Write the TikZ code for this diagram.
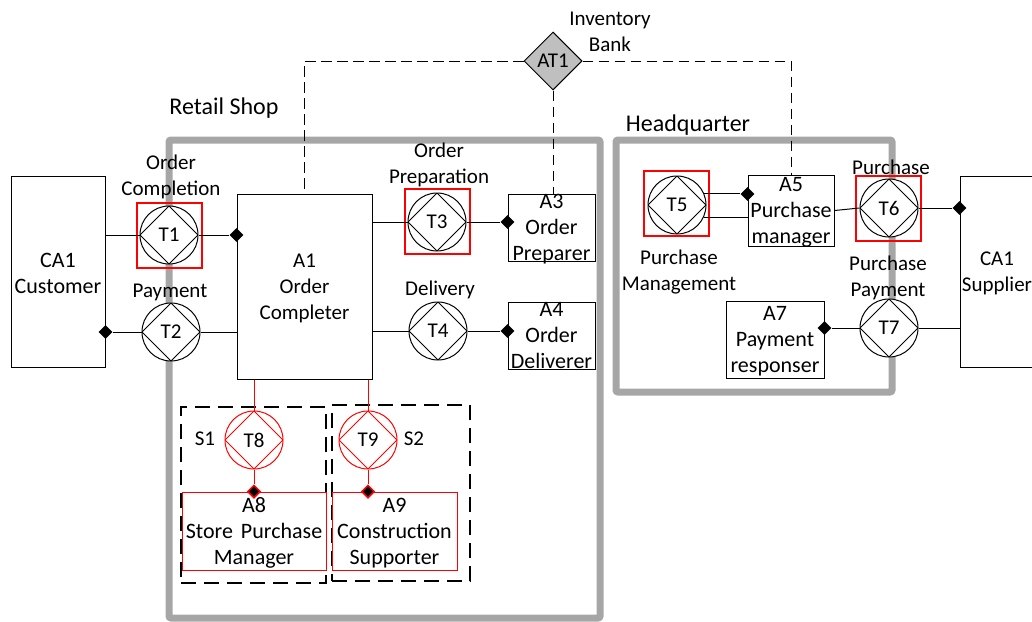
\documentclass[tikz,border=0pt]{standalone}
\usepackage{fontspec}
\setmainfont{Carlito}
\usetikzlibrary{shapes.geometric}

\begin{document}
\begin{tikzpicture}[x=1pt,y=-1pt,
    every node/.style={font=\fontsize{21}{26}\selectfont,align=center,inner sep=0pt},
    wall/.style={draw=black!35,line width=7pt,rounded corners=2pt},
    title/.style={font=\fontsize{24}{26}\selectfont},
    bigtext/.style={font=\fontsize{22}{26}\selectfont,yshift=-2pt},
    smalltext/.style={yshift=-2pt},
    actor/.style 2 args={draw=black,line width=1pt,fill=white,rectangle,
      minimum width=#1 pt,minimum height=#2 pt},
    redactor/.style 2 args={draw=red,line width=1pt,fill=white,rectangle,
      minimum width=#1 pt,minimum height=#2 pt},
    trans/.style={draw=#1,line width=1pt,fill=white,circle,minimum size=58pt,
      path picture={\draw[#1,line width=1pt] (path picture bounding box.north)--(path picture bounding box.east)
        --(path picture bounding box.south)--(path picture bounding box.west)--cycle;}},
    redbox/.style={draw=red,line width=2pt,rectangle,minimum size=65pt},
    joint/.style={diamond,fill=black,minimum size=14pt},
    redjoint/.style={diamond,fill=black,draw=red,line width=1.5pt,minimum size=13pt},
    link/.style={draw=black,line width=1pt},
    redlink/.style={draw=red,line width=1pt},
    bank/.style={dash pattern=on 10.5pt off 5.5pt,line width=1pt},
    system/.style={draw=black,line width=2pt,dash pattern=on 15pt off 8pt,rectangle},
  ]
  \useasboundingbox (0,0) rectangle (1032,621);
  % ---------------------
  % the two organizations
  % ---------------------
  \draw[wall] (169,140) rectangle (600,618);
  \draw[wall] (616,140) rectangle (892,392);
  \node[title] (retail) at (224,108) {Retail Shop};
  \node[title] (hq) at (688,125) {Headquarter};
  % ----------------
  % the actor roles
  % ----------------
  \node[actor={94}{191},label={[bigtext]center:{CA1\\Customer}}] (CA1) at (58,271.5) {};
  \node[actor={135}{185},label={[smalltext]center:{A1\\Order\\Completer}}] (A1) at (304.5,286.5) {};
  \node[actor={87}{67},label={[bigtext]center:{A3\\Order\\Preparer}}] (A3) at (551.5,227.5) {};
  \node[actor={87}{67},label={[bigtext,yshift=2pt]center:{A4\\Order\\Deliverer}}] (A4) at (551.5,335.5) {};
  \node[actor={86}{71},label={[bigtext]center:{A5\\Purchase\\manager}}] (A5) at (791,210.5) {};
  \node[actor={98}{77},label={[bigtext]center:{A7\\Payment\\responser}}] (A7) at (775,339.5) {};
  \node[actor={74}{191},label={[smalltext]center:{CA1\\Supplier}}] (CA2) at (997,271.5) {};
  % --------------------------
  % the two dashed subsystems
  % --------------------------
  \node[system,minimum width=145pt,minimum height=176pt] (S1box) at (253.5,495) {};
  \node[system,minimum width=138pt,minimum height=176pt] (S2box) at (401,493) {};
  \node (S1) at (205,439) {S1};
  \node (S2) at (414,439) {S2};
  \node[redactor={144}{78},label={[bigtext]center:{A8\\Store\hspace{3pt} Purchase\\Manager}}] (A8) at (254,531) {};
  \node[redactor={125}{78},label={[bigtext]center:{A9\\Construction\\Supporter}}] (A9) at (394.5,531) {};
  % ---------------------------------
  % the red marks of the transactions
  % ---------------------------------
  \foreach \name/\x/\y in {T1/169/235.5,T3/437/221.5,T5/676.5/203.5,T6/888.5/208.5}{
    \node[redbox] (box\name) at (\x,\y) {};
  }
  % ----------------
  % the transactions
  % ----------------
  \foreach \name/\x/\y in {T1/169/235,T2/171/332,T3/437/222,T4/438/331,T5/677/205,T6/889/208,T7/889/328}{
    \node[trans=black] (\name) at (\x,\y) {\raisebox{-2pt}{\name}};
  }
  \foreach \name/\x in {T8/254,T9/368}{
    \node[trans=red] (\name) at (\x,440) {\raisebox{-2pt}{\name}};
  }
  \node[diamond,draw=black,line width=1pt,fill=black!25,minimum size=58pt] (AT1) at (553,61) {\raisebox{-2pt}{AT1}};
  % ----------------------
  % the transaction labels
  % ----------------------
  \node (lT1) at (171,177) {Order\\Completion};
  \node (lT2) at (170,292) {Payment};
  \node (lT3) at (439,165) {Order\\Preparation};
  \node (lT4) at (440,290) {Delivery};
  \node (lT5) at (679,272) {Purchase\\Management};
  \node (lT6) at (891,167) {Purchase};
  \node (lT7) at (888,278) {Purchase\\Payment};
  \node (lAT1) at (610,32) {Inventory\\Bank};
  % ------------------
  % the executor marks
  % ------------------
  \node[joint] (d1) at (A1.west |- T1) {};
  \node[joint] (d2) at (CA1.east |- T2) {};
  \node[joint] (d3) at (A3.west |- T3) {};
  \node[joint] (d4) at (A4.west |- T4) {};
  \node[joint] (d5) at (A5.west |- T5.22) {};
  \node[joint] (d6) at (CA2.west |- T6) {};
  \node[joint] (d7) at (A7.east |- T7) {};
  \node[redjoint] (d8) at (T8 |- A8.north) {};
  \node[redjoint] (d9) at (T9 |- A9.north) {};
  % ---------
  % the links
  % ---------
  \draw[link] (CA1.east |- T1) -- (T1.west);
  \draw[link] (T1.east) -- (d1);
  \draw[link] (d2) -- (T2.west);
  \draw[link] (T2.east) -- (A1.west |- T2);
  \draw[link] (A1.east |- T3) -- (T3.west);
  \draw[link] (T3.east) -- (d3);
  \draw[link] (A1.east |- T4) -- (T4.west);
  \draw[link] (T4.east) -- (d4);
  \draw[link] (T5.22) -- (d5);
  \draw[link] (T5.-26) -- (A5.west |- T5.-26);
  \draw[link] (A5.east) -- (T6.west);
  \draw[link] (T6.east) -- (d6);
  \draw[link] (d7) -- (T7.west);
  \draw[link] (T7.east) -- (CA2.west |- T7);
  \draw[redlink] (T8 |- A1.south) -- (T8.north);
  \draw[redlink] (T8.south) -- (d8);
  \draw[redlink] (T9 |- A1.south) -- (T9.north);
  \draw[redlink] (T9.south) -- (d9);
  % the bank links
  \draw[bank] (AT1.west) -| (A1.north);
  \draw[bank] (AT1.south) -- (AT1.south |- A3.north);
  \draw[bank] (AT1.east) -| (A5.north);
\end{tikzpicture}
\end{document}
